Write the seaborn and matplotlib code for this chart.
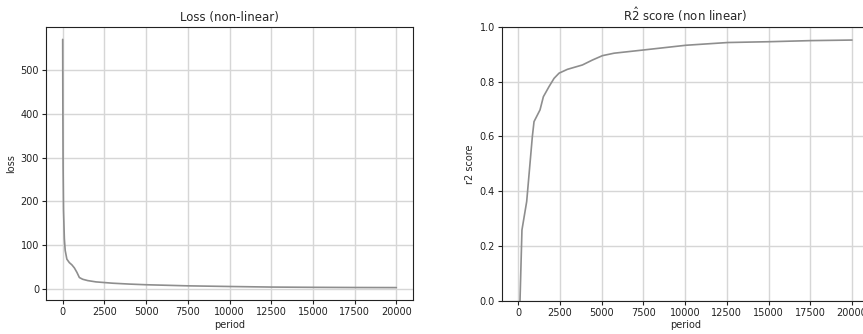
import matplotlib
matplotlib.use("Agg")
import matplotlib.pyplot as plt
import seaborn as sns

# loss curve
loss_period = [0, 10, 25, 50, 100, 150, 250, 400, 550, 700, 850, 1000, 1200, 1500,
               2000, 2500, 3000, 4000, 5000, 7500, 10000, 12500, 15000, 17500, 20000]
loss_value = [570, 420, 280, 180, 115, 88, 68, 60, 55, 48, 38, 26, 22, 19,
              16, 14.5, 13, 11, 9.5, 7, 5.5, 4.2, 3.6, 3.2, 3.0]

# r2 score curve
r2_period = [0, 50, 100, 216, 500, 840, 940, 1300, 1500, 1840, 2140, 2440, 2940,
             3840, 4440, 5040, 5740, 7540, 10050, 12550, 15050, 17560, 20000]
r2_value = [-3.0, -1.0, 0.0, 0.258, 0.362, 0.60, 0.654, 0.697, 0.745, 0.782, 0.812,
            0.831, 0.845, 0.861, 0.879, 0.895, 0.904, 0.916, 0.933, 0.943, 0.946,
            0.950, 0.952]

sns.set_style("ticks", {"axes.grid": True, "grid.color": "#d6d6d6",
                        "axes.edgecolor": "#222222"})
plt.rcParams["font.family"] = ["DejaVu Sans"]
plt.rcParams["xtick.labelsize"] = 7
plt.rcParams["ytick.labelsize"] = 7
plt.rcParams["axes.labelsize"] = 7
plt.rcParams["axes.titlesize"] = 8.5

fig = plt.figure(figsize=(8.63, 3.34), dpi=100)
ax1 = fig.add_axes([0.0533, 0.1018, 0.4253, 0.8174])
ax2 = fig.add_axes([0.5813, 0.1000, 0.4253, 0.8194])

line_col = "#8e8e8e"

#1: loss
sns.lineplot(x=loss_period, y=loss_value, ax=ax1, color=line_col, linewidth=1.2)
ax1.set_title("Loss (non-linear)", pad=4)
ax1.set_xlabel("period")
ax1.set_ylabel("loss")
ax1.set_xticks([0, 2500, 5000, 7500, 10000, 12500, 15000, 17500, 20000])
ax1.set_yticks([0, 100, 200, 300, 400, 500])

#2: r2 score
sns.lineplot(x=r2_period, y=r2_value, ax=ax2, color=line_col, linewidth=1.2)
ax2.set_ylim(0, 1.0)
ax2.set_xlim(-1000, 21000)
ax2.set_title(r"R$\hat{2}$ score (non linear)", pad=4)
ax2.set_xlabel("period")
ax2.set_ylabel("r2 score")
ax2.set_xticks([0, 2500, 5000, 7500, 10000, 12500, 15000, 17500, 20000])

for ax in (ax1, ax2):
    ax.grid(True, linewidth=1.0)
    ax.tick_params(length=3, width=0.8, colors="#222222", pad=2)
    ax.xaxis.labelpad = 2
    ax.yaxis.labelpad = 3

fig.savefig("out.png", dpi=100)
